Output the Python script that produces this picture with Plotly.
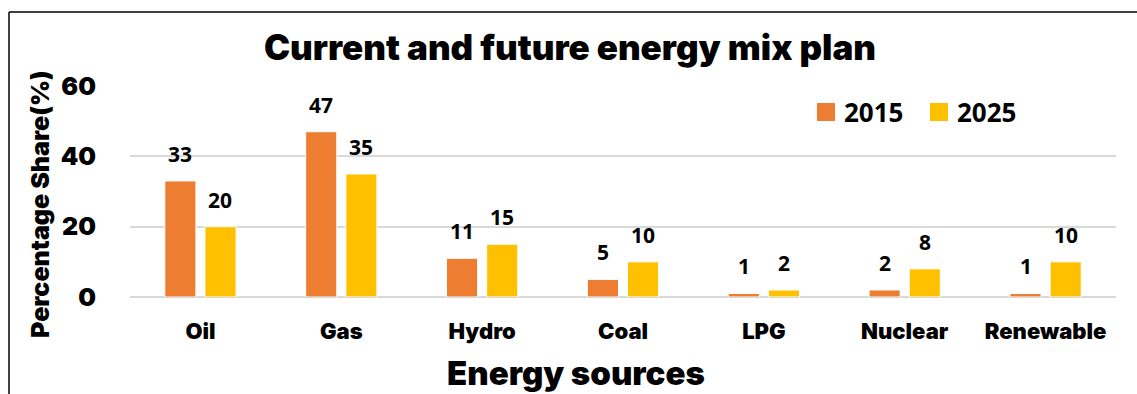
import plotly.graph_objects as go

categories = ["Oil", "Gas", "Hydro", "Coal", "LPG", "Nuclear", "Renewable"]
series_names = ["2015", "2025"]
values_2015 = [33, 47, 11, 5, 1, 2, 1]
values_2025 = [20, 35, 15, 10, 2, 8, 10]
y_ticks = [0, 20, 40, 60]
colors = ["#ED7D31", "#FFC000"]
title_text = "Current and future energy mix plan"
x_title = "Energy sources"
y_title = "Percentage Share(%)"

W, H = 1137, 394
L, R, T, B = 130, 1116, 86, 297  # plot area in px

def px_x(x):
    return (x - L) / (R - L)

def px_y(y):
    return (B - y) / (B - T)

HEAVY = "Inter"
LABEL = "Open Sans"

fig = go.Figure()
for name, vals, col in zip(series_names, [values_2015, values_2025], colors):
    fig.add_trace(go.Bar(
        x=categories, y=vals, name=name,
        marker=dict(color=col, line=dict(color="white", width=1)),
        showlegend=False,
    ))

annotations = []
for i, vals in enumerate([values_2015, values_2025]):
    shift = -20 if i == 0 else 20
    for c, v in zip(categories, vals):
        annotations.append(dict(
            x=c, y=v, xref="x", yref="y", text=str(v), showarrow=False,
            xshift=shift, yshift=11, yanchor="bottom",
            font=dict(family=LABEL, size=21, color="black", weight="bold"),
        ))

# manual legend
leg_x = [817, 930]
for name, col, lx in zip(series_names, colors, leg_x):
    annotations.append(dict(
        x=px_x(lx + 25), y=px_y(112), xref="paper", yref="paper",
        text=name, showarrow=False, xanchor="left", yanchor="middle",
        font=dict(family=LABEL, size=26, color="black", weight="bold"),
    ))

# axis titles
annotations.append(dict(
    x=px_x(576), y=px_y(373), xref="paper", yref="paper", text=x_title,
    showarrow=False, xanchor="center", yanchor="middle",
    font=dict(family=HEAVY, size=33, color="black", weight=900),
))
annotations.append(dict(
    x=px_x(40), y=px_y(204), xref="paper", yref="paper", text=y_title,
    showarrow=False, xanchor="center", yanchor="middle", textangle=-90,
    font=dict(family=HEAVY, size=25, color="black", weight=900),
))

shapes = []
for col, lx in zip(colors, leg_x):
    shapes.append(dict(
        type="rect", xref="paper", yref="paper",
        x0=px_x(lx), x1=px_x(lx + 18), y0=px_y(103), y1=px_y(121),
        fillcolor=col, line=dict(width=0),
    ))
# frame lines (top and left)
shapes.append(dict(type="line", xref="paper", yref="paper",
                   x0=px_x(9), x1=px_x(W + 5), y0=px_y(12), y1=px_y(12),
                   line=dict(color="black", width=1.5)))
shapes.append(dict(type="line", xref="paper", yref="paper",
                   x0=px_x(9), x1=px_x(9), y0=px_y(12), y1=px_y(H + 5),
                   line=dict(color="black", width=1.5)))

fig.update_layout(
    width=W, height=H,
    margin=dict(l=L, r=W - R, t=T, b=H - B),
    paper_bgcolor="white", plot_bgcolor="white",
    barmode="group", bargap=0.43, bargroupgap=0.225,
    title=dict(text=title_text, x=570 / W, xanchor="center",
               y=1 - 48 / H, yanchor="middle",
               font=dict(family=HEAVY, size=35, color="black", weight=900)),
    xaxis=dict(
        showgrid=False, showline=False, zeroline=False,
        ticks="outside", ticklen=15, tickcolor="rgba(0,0,0,0)",
        tickfont=dict(family=HEAVY, size=22, color="black", weight=900),
    ),
    yaxis=dict(
        range=[0, 60], tickvals=y_ticks,
        showgrid=True, gridcolor="#D9D9D9", gridwidth=1.5,
        zeroline=True, zerolinecolor="#D9D9D9", zerolinewidth=1.5,
        showline=False,
        ticks="outside", ticklen=28, tickcolor="rgba(0,0,0,0)",
        tickfont=dict(family=HEAVY, size=25, color="black", weight=900),
    ),
    annotations=annotations,
    shapes=shapes,
)

fig.write_html("out.html")
